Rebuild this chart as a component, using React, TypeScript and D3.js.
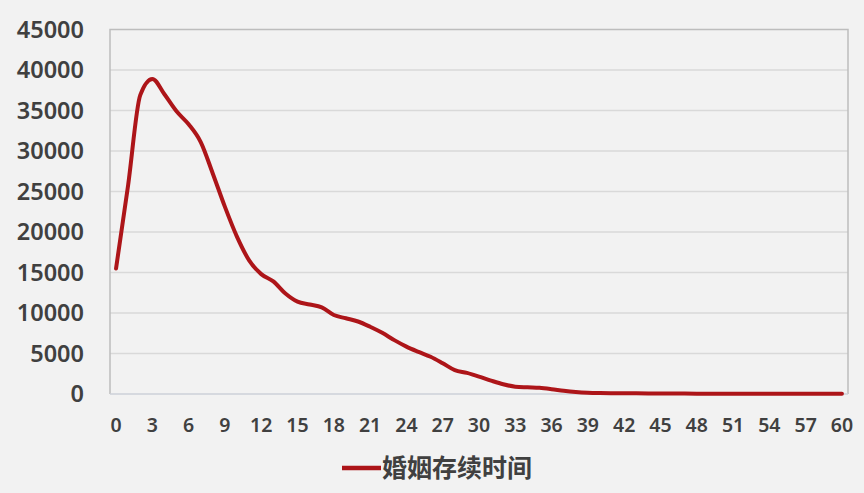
import { useEffect, useRef } from "react";
import * as d3 from "d3";

const years = d3.range(0, 61);
const counts = [
  15500, 25800, 36900, 38900, 37000, 34900, 33300, 31100, 27200, 23100,
  19400, 16500, 14800, 13900, 12400, 11400, 11050, 10700, 9750, 9350,
  8950, 8300, 7550, 6650, 5850, 5200, 4600, 3800, 2950, 2600,
  2150, 1650, 1200, 900, 820, 760, 600, 400, 250, 160,
  120, 100, 90, 80, 70, 60, 55, 50, 45, 40,
  38, 35, 32, 30, 28, 26, 24, 22, 20, 18, 16,
];
const yTicks = [0, 5000, 10000, 15000, 20000, 25000, 30000, 35000, 40000, 45000];
const xTicks = d3.range(0, 61, 3);
const seriesName = "婚姻存续时间";

const W = 864;
const H = 493;
const box = { left: 110, top: 29.5, right: 848, bottom: 394 };
const lineColor = "#ad1519";
const textColor = "#404040";

export default function App() {
  const ref = useRef<SVGSVGElement>(null);

  useEffect(() => {
    const svg = d3.select(ref.current);
    svg.selectAll("*").remove();

    const x = d3
      .scalePoint<number>()
      .domain(years)
      .range([box.left, box.right])
      .padding(0.5);
    const y = d3.scaleLinear().domain([0, 45000]).range([box.bottom, box.top]);

    svg.append("rect").attr("width", W).attr("height", H).attr("fill", "#f2f2f2");

    // gridlines
    svg
      .append("g")
      .selectAll("line")
      .data(yTicks.filter((t) => t > 0 && t < 45000))
      .join("line")
      .attr("x1", box.left)
      .attr("x2", box.right)
      .attr("y1", (d) => y(d))
      .attr("y2", (d) => y(d))
      .attr("stroke", "#d9d9d9")
      .attr("stroke-width", 1.5);

    // plot frame (top, left, right)
    svg
      .append("path")
      .attr("d", `M${box.left},${box.bottom}V${box.top}H${box.right}V${box.bottom}`)
      .attr("fill", "none")
      .attr("stroke", "#bdbdbd")
      .attr("stroke-width", 1.5);

    // x axis line
    svg
      .append("line")
      .attr("x1", box.left)
      .attr("x2", box.right)
      .attr("y1", y(0))
      .attr("y2", y(0))
      .attr("stroke", "#cdd1d8")
      .attr("stroke-width", 1.5);

    // y labels
    svg
      .append("g")
      .selectAll("text")
      .data(yTicks)
      .join("text")
      .attr("x", 84)
      .attr("y", (d) => y(d))
      .attr("dy", "0.36em")
      .attr("text-anchor", "end")
      .attr("font-family", "'Noto Sans', sans-serif")
      .attr("font-weight", 600)
      .attr("font-size", 23.5)
      .attr("fill", textColor)
      .text((d) => String(d));

    // x labels
    svg
      .append("g")
      .selectAll("text")
      .data(xTicks)
      .join("text")
      .attr("x", (d) => x(d) as number)
      .attr("y", 425)
      .attr("dy", "0.36em")
      .attr("text-anchor", "middle")
      .attr("font-family", "'Noto Sans', sans-serif")
      .attr("font-weight", 600)
      .attr("font-size", 19.5)
      .attr("fill", textColor)
      .text((d) => String(d));

    // series line
    const line = d3
      .line<number>()
      .x((_, i) => x(years[i]) as number)
      .y((d) => y(d))
      .curve(d3.curveMonotoneX);

    svg
      .append("path")
      .datum(counts)
      .attr("d", line)
      .attr("fill", "none")
      .attr("stroke", lineColor)
      .attr("stroke-width", 4)
      .attr("stroke-linejoin", "round")
      .attr("stroke-linecap", "round");

    // legend
    svg
      .append("line")
      .attr("x1", 342)
      .attr("x2", 381)
      .attr("y1", 468)
      .attr("y2", 468)
      .attr("stroke", lineColor)
      .attr("stroke-width", 4.5);
    svg
      .append("text")
      .attr("x", 382)
      .attr("y", 468)
      .attr("dy", "0.36em")
      .attr("font-family", "'Noto Sans CJK SC', sans-serif")
      .attr("font-weight", 700)
      .attr("font-size", 25)
      .attr("fill", textColor)
      .text(seriesName);
  }, []);

  return (
    <div style={{ position: "fixed", left: 0, top: 0 }}>
      <svg ref={ref} width={W} height={H} style={{ display: "block" }} />
    </div>
  );
}
